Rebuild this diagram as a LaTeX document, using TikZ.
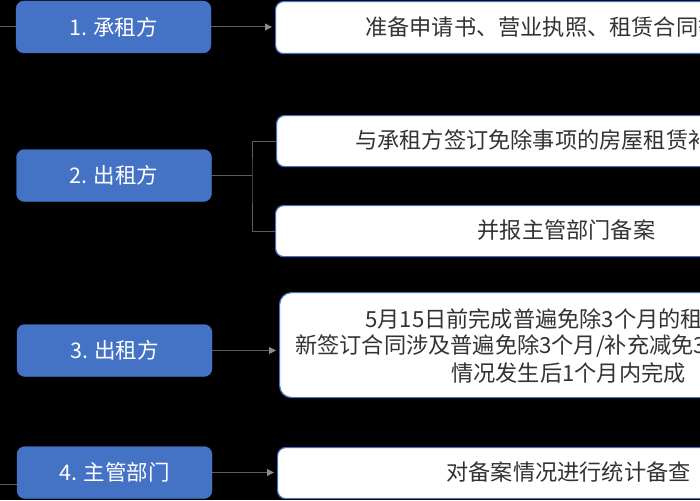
\documentclass[tikz,border=0pt]{standalone}
\usepackage{fontspec}
\setmainfont{Noto Sans CJK SC}
\usetikzlibrary{arrows.meta}
\definecolor{obl}{HTML}{4472C4}
\definecolor{lnc}{HTML}{5E5E5E}
\definecolor{tipc}{HTML}{8C8C8C}
\definecolor{txtc}{HTML}{333333}
\tikzset{
  bluebox/.style={draw=obl, fill=obl, rounded corners=8pt, minimum width=195pt, minimum height=52pt, inner sep=0pt, text=white, font=\fontsize{21.5}{25}\selectfont},
  whitebox/.style={draw=obl, line width=1.2pt, fill=white, rounded corners=8pt, inner sep=0pt, anchor=north west, minimum width=585pt},
  wtext/.style={text=txtc, font=\fontsize{22.2}{26}\selectfont, inner sep=0pt},
  conn/.style={draw=lnc, line width=1pt},
  arr/.style={conn, -{Triangle[length=7pt,width=7pt,color=tipc]}, shorten >=3pt}
}
\begin{document}
\begin{tikzpicture}[x=1pt,y=-1pt]
\useasboundingbox (0,0) rectangle (700,500);
\clip (0,0) rectangle (700,500);
\fill[black] (0,0) rectangle (700,500);

% left blue boxes
\node[bluebox] (b1) at (113.5,27) {1. 承租方};
\node[bluebox] (b2) at (114,175.5) {2. 出租方};
\node[bluebox] (b3) at (114.5,350.5) {3. 出租方};
\node[bluebox] (b4) at (114.5,472.5) {4. 主管部门};

% right white boxes
\node[whitebox, minimum height=52pt] (w1) at (275,1) {};
\node[whitebox, minimum height=51pt] (w2a) at (276,115) {};
\node[whitebox, minimum height=51pt] (w2b) at (275,205) {};
\node[whitebox, minimum height=105pt, rounded corners=12pt] (w3) at (279,292) {};
\node[whitebox, minimum height=51pt] (w4) at (277,447) {};

% texts
\node[wtext, anchor=west] (t1) at (365,27) {准备申请书、营业执照、租赁合同等};
\node[wtext, anchor=west] (t2a) at (355,140.5) {与承租方签订免除事项的房屋租赁补};
\node[wtext] (t2b) at (566.5,230.5) {并报主管部门备案};
\node[wtext, anchor=west] (t3a) at (365,319) {5月15日前完成普遍免除3个月的租};
\node[wtext, anchor=west] (t3b) at (295,346) {新签订合同涉及普遍免除3个月/补充减免3};
\node[wtext] (t3c) at (568.5,373) {情况发生后1个月内完成};
\node[wtext] (t4) at (568.5,472.5) {对备案情况进行统计备查};

% connectors
\coordinate (in1) at (-5,27);
\coordinate (in4) at (-5,484);
\coordinate (j2) at (252,175.5);
\draw[conn] (in1) -- (b1.west);
\draw[conn] (in4) -- (in4 -| b4.west);
\draw[arr] (b1.east) -- (b1.east -| w1.west);
\draw[conn] (b2.east) -- (j2);
\draw[conn] (w2a.west) -| (j2) |- (w2b.west);
\draw[arr] (b3.east) -- (b3.east -| w3.west);
\draw[arr] (b4.east) -- (b4.east -| w4.west);
\end{tikzpicture}
\end{document}
